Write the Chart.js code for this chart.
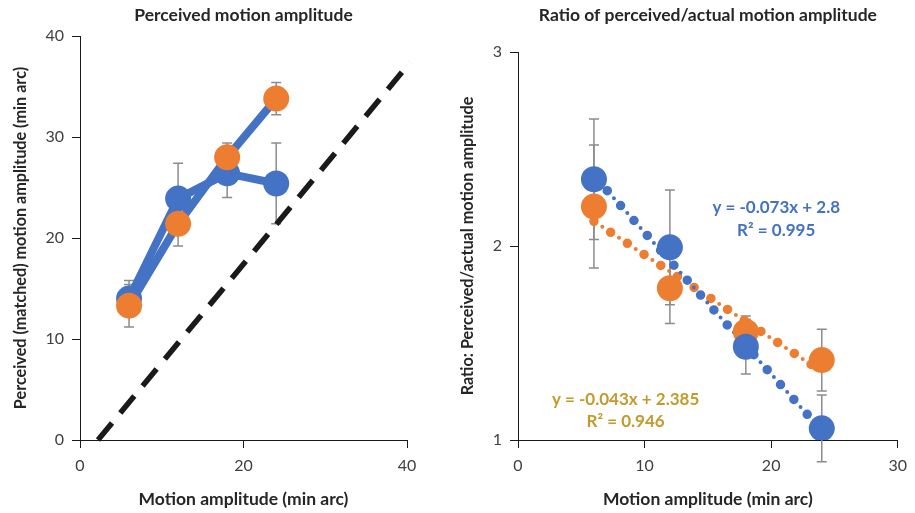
<!DOCTYPE html>
<html><head><meta charset="utf-8">
<script src="https://cdn.jsdelivr.net/npm/chart.js@4/dist/chart.umd.min.js"></script>
<style>
html,body{margin:0;padding:0;background:#fff;}
#wrap{position:relative;width:915px;height:513px;overflow:hidden;}
#c1{position:absolute;left:0;top:0;}
#c2{position:absolute;left:457px;top:0;}
</style></head><body>
<div id="wrap"><canvas id="c1" width="457" height="513"></canvas><canvas id="c2" width="458" height="513"></canvas></div>
<script>
// ---- data ----
const amplitudes = [6, 12, 18, 24];
const perceivedBlue = [14.0, 23.9, 26.4, 25.4];
const perceivedBlueErr = [1.8, 3.5, 2.4, 4.0];
const perceivedOrange = [13.3, 21.4, 28.0, 33.8];
const perceivedOrangeErr = [2.1, 2.2, 1.4, 1.6];
const unityX = [2.2, 40.4];
const unityY = [0, 37.4];
const ratioBlue = [2.344, 1.993, 1.481, 1.060];
const ratioBlueErr = [0.31, 0.296, 0.141, 0.172];
const ratioOrange = [2.203, 1.782, 1.558, 1.412];
const ratioOrangeErr = [0.317, 0.181, 0.081, 0.159];
const trendX = [6, 24];
const trendBlue = [2.362, 1.048];
const trendOrange = [2.127, 1.353];
const blueEquation = ["y = -0.073x + 2.8", "R² = 0.995"];
const orangeEquation = ["y = -0.043x + 2.385", "R² = 0.946"];

const BLUE = '#4472C4', ORANGE = '#ED7D31', GOLD = '#C49A2C';
const FONT = 'Lato';
const TXT = '#262626', TICK = '#404040';

const pts = (xs, ys) => xs.map((x, i) => ({x: x, y: ys[i]}));

const errorBars = {
  id: 'errorBars',
  beforeDatasetsDraw(chart) {
    const ctx = chart.ctx, xs = chart.scales.x, ys = chart.scales.y;
    chart.data.datasets.forEach(ds => {
      if (!ds.errors) return;
      ctx.save();
      ctx.strokeStyle = '#8c8c8c';
      ctx.lineWidth = 1.5;
      ds.data.forEach((p, i) => {
        const e = ds.errors[i];
        const x = xs.getPixelForValue(p.x);
        const y1 = ys.getPixelForValue(p.y + e), y2 = ys.getPixelForValue(p.y - e);
        ctx.beginPath();
        ctx.moveTo(x, y1); ctx.lineTo(x, y2);
        ctx.moveTo(x - 5, y1); ctx.lineTo(x + 5, y1);
        ctx.moveTo(x - 5, y2); ctx.lineTo(x + 5, y2);
        ctx.stroke();
      });
      ctx.restore();
    });
  }
};

const texts = {
  id: 'texts',
  afterDraw(chart, args, opts) {
    const ctx = chart.ctx, a = chart.chartArea;
    ctx.save();
    ctx.textAlign = 'center';
    ctx.textBaseline = 'middle';
    ctx.fillStyle = TXT;
    ctx.font = 'bold 17.5px ' + FONT;
    ctx.fillText(opts.title, (a.left + a.right) / 2, 15);
    (opts.notes || []).forEach(n => {
      ctx.fillStyle = n.color;
      ctx.font = 'bold 17px ' + FONT;
      ctx.fillText(n.text, chart.scales.x.getPixelForValue(n.x), chart.scales.y.getPixelForValue(n.y));
    });
    ctx.restore();
  }
};

function axis(min, max, step, title, titleSize, titlePad, fit) {
  return {
    type: 'linear', min: min, max: max,
    ticks: {stepSize: step, color: TICK, font: {family: FONT, size: 16}, padding: 8},
    grid: {display: true, drawOnChartArea: false, drawTicks: true, tickLength: 8, color: '#1a1a1a', lineWidth: 1},
    border: {display: true, color: '#1a1a1a', width: 1},
    title: {display: true, text: title, color: TXT, font: {family: FONT, size: titleSize, weight: 'bold'}, padding: titlePad},
    afterFit: fit
  };
}

const common = {
  responsive: false, animation: false, devicePixelRatio: 1,
  plugins: {legend: {display: false}, tooltip: {enabled: false}, title: {display: false}},
  events: []
};

new Chart(document.getElementById('c1'), {
  type: 'line',
  data: {datasets: [
    {data: pts(amplitudes, perceivedOrange), errors: perceivedOrangeErr, borderColor: BLUE, borderWidth: 8,
     borderJoinStyle: 'round', borderCapStyle: 'round',
     pointRadius: 13, pointBackgroundColor: ORANGE, pointBorderWidth: 0, order: 0},
    {data: pts(amplitudes, perceivedBlue), errors: perceivedBlueErr, borderColor: BLUE, borderWidth: 8,
     borderJoinStyle: 'round', borderCapStyle: 'round',
     pointRadius: 13, pointBackgroundColor: BLUE, pointBorderWidth: 0, order: 1},
    {data: pts(unityX, unityY), borderColor: '#1a1a1a', borderWidth: 5.5, borderDash: [22, 13],
     pointRadius: 0, clip: false, order: 2}
  ]},
  options: Object.assign({}, common, {
    layout: {padding: {top: 36, left: 0, right: 50, bottom: 0}},
    scales: {
      x: axis(0, 40, 20, 'Motion amplitude (min arc)', 17.5, {top: 0, bottom: 3}, s => { s.height = 73; }),
      y: axis(0, 40, 10, 'Perceived (matched) motion amplitude (min arc)', 16.2, {top: 11, bottom: 0}, s => { s.width = 80; })
    },
    plugins: Object.assign({}, common.plugins, {texts: {title: 'Perceived motion amplitude'}})
  }),
  plugins: [errorBars, texts]
});

new Chart(document.getElementById('c2'), {
  type: 'line',
  data: {datasets: [
    {data: pts(amplitudes, ratioBlue), errors: ratioBlueErr, showLine: false,
     pointRadius: 13, pointBackgroundColor: BLUE, pointBorderWidth: 0, order: 0},
    {data: pts(amplitudes, ratioOrange), errors: ratioOrangeErr, showLine: false,
     pointRadius: 13, pointBackgroundColor: ORANGE, pointBorderWidth: 0, order: 1},
    {data: pts(trendX, trendBlue), borderColor: BLUE, borderWidth: 9.5, borderDash: [0, 20], borderCapStyle: 'round',
     pointRadius: 0, order: 2},
    {data: pts(trendX, trendBlue), borderColor: BLUE, borderWidth: 4, borderDash: [0, 10], borderCapStyle: 'round',
     pointRadius: 0, order: 3},
    {data: pts(trendX, trendOrange), borderColor: ORANGE, borderWidth: 9.5, borderDash: [0, 20], borderCapStyle: 'round',
     pointRadius: 0, order: 4},
    {data: pts(trendX, trendOrange), borderColor: ORANGE, borderWidth: 4, borderDash: [0, 10], borderCapStyle: 'round',
     pointRadius: 0, order: 5}
  ]},
  options: Object.assign({}, common, {
    layout: {padding: {top: 52, left: 0, right: 12, bottom: 0}},
    scales: {
      x: axis(0, 30, 10, 'Motion amplitude (min arc)', 17.5, {top: 0, bottom: 3}, s => { s.height = 73; }),
      y: axis(1, 3, 1, 'Ratio: Perceived/actual motion amplitude', 16.2, {top: 1, bottom: 0}, s => { s.width = 61; })
    },
    plugins: Object.assign({}, common.plugins, {texts: {
      title: 'Ratio of perceived/actual motion amplitude',
      notes: [
        {text: blueEquation[0], x: 20.4, y: 2.20, color: BLUE},
        {text: blueEquation[1], x: 20.4, y: 2.08, color: BLUE},
        {text: orangeEquation[0], x: 8.5, y: 1.21, color: GOLD},
        {text: orangeEquation[1], x: 8.5, y: 1.093, color: GOLD}
      ]
    }})
  }),
  plugins: [errorBars, texts]
});
</script>
</body></html>
